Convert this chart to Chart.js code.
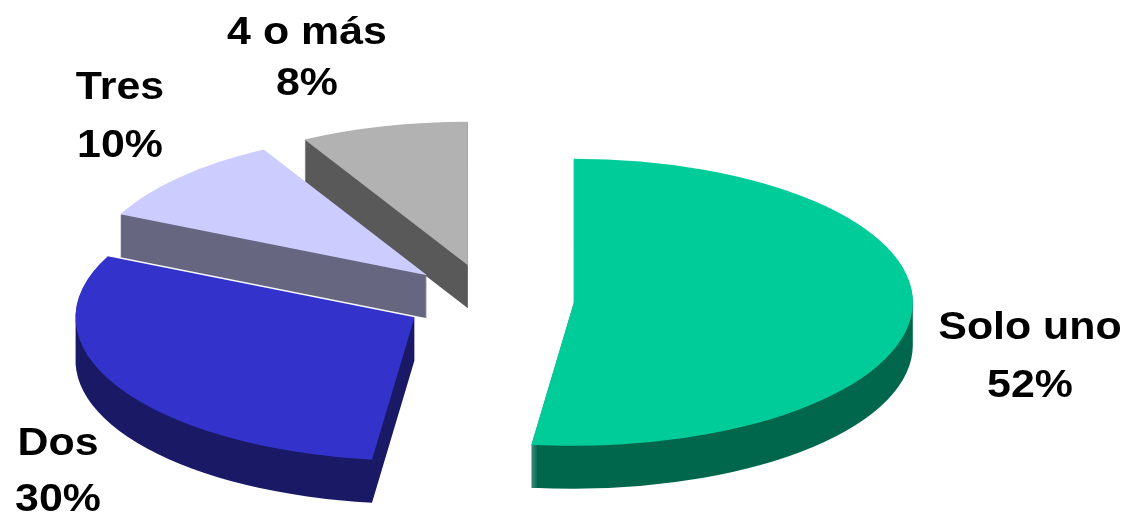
<!DOCTYPE html>
<html>
<head>
<meta charset="utf-8">
<script src="https://cdn.jsdelivr.net/npm/chart.js@4.4.1/dist/chart.umd.min.js"></script>
<style>
  html, body { margin: 0; padding: 0; background: #fff; }
  #wrap { width: 1127px; height: 524px; position: relative; }
</style>
</head>
<body>
<div id="wrap"><canvas id="pie"></canvas></div>
<script>
// hogares según número de miembros
const categories = ['Solo uno', 'Dos', 'Tres', '4 o más']
const shares = [52, 30, 10, 8]
const topColors = ['#00CC99', '#3333CC', '#CCCCFF', '#B2B2B2']
const sideColors = ['#00664C', '#191966', '#666680', '#595959']

// where the flattened pie sits on the page
const pieCenter = { x: 489, y: 300 }
const radiusX = 339
const radiusY = 143.5
const explode = 85
const depth = 43

// label anchors: centre x, baseline of each line
const labelPos = [
  { x: 1030, y1: 339, y2: 397 },
  { x: 58, y1: 455, y2: 511 },
  { x: 120, y1: 99, y2: 157 },
  { x: 307, y1: 44, y2: 95 },
]
const labelStretch = 1.1

const pie3d = {
  id: 'pie3d',
  beforeDatasetDraw(chart, args) {
    const ctx = chart.ctx
    const arcs = args.meta.data
    const r = arcs[0].outerRadius
    const sx = radiusX / r
    const sy = radiusY / r

    const place = (arc, dy) => {
      const mid = (arc.startAngle + arc.endAngle) / 2
      ctx.translate(pieCenter.x, pieCenter.y + dy)
      ctx.scale(sx, sy)
      ctx.translate(-arc.x + Math.cos(mid) * explode / sx, -arc.y + Math.sin(mid) * explode / sx)
    }

    // side walls: one path made of the slice swept downwards, filled once
    arcs.forEach((arc, i) => {
      ctx.beginPath()
      for (let d = depth; d >= 1; d--) {
        ctx.save()
        place(arc, d)
        ctx.moveTo(arc.x, arc.y)
        ctx.arc(arc.x, arc.y, arc.outerRadius, arc.startAngle, arc.endAngle)
        ctx.closePath()
        ctx.restore()
      }
      ctx.fillStyle = sideColors[i]
      ctx.fill('nonzero')
    })

    // top faces, drawn by the arc elements themselves
    arcs.forEach((arc) => {
      ctx.save()
      place(arc, 0)
      arc.draw(ctx)
      ctx.restore()
    })
    return false
  },
  afterDraw(chart) {
    const ctx = chart.ctx
    ctx.save()
    ctx.fillStyle = '#000'
    ctx.font = 'bold 39px "Liberation Sans", Arial, sans-serif'
    ctx.textAlign = 'center'
    ctx.textBaseline = 'alphabetic'
    categories.forEach((name, i) => {
      const p = labelPos[i]
      ctx.save()
      ctx.translate(p.x, 0)
      ctx.scale(labelStretch, 1)
      ctx.fillText(name, 0, p.y1)
      ctx.fillText(shares[i] + '%', 0, p.y2)
      ctx.restore()
    })
    ctx.restore()
  }
}

new Chart(document.getElementById('pie'), {
  type: 'pie',
  data: {
    labels: categories,
    datasets: [{
      data: shares,
      backgroundColor: topColors,
      borderWidth: 0,
      clip: false
    }]
  },
  options: {
    responsive: true,
    maintainAspectRatio: false,
    animation: false,
    layout: { padding: 0 },
    plugins: {
      legend: { display: false },
      tooltip: { enabled: false }
    }
  },
  plugins: [pie3d]
})
</script>
</body>
</html>
